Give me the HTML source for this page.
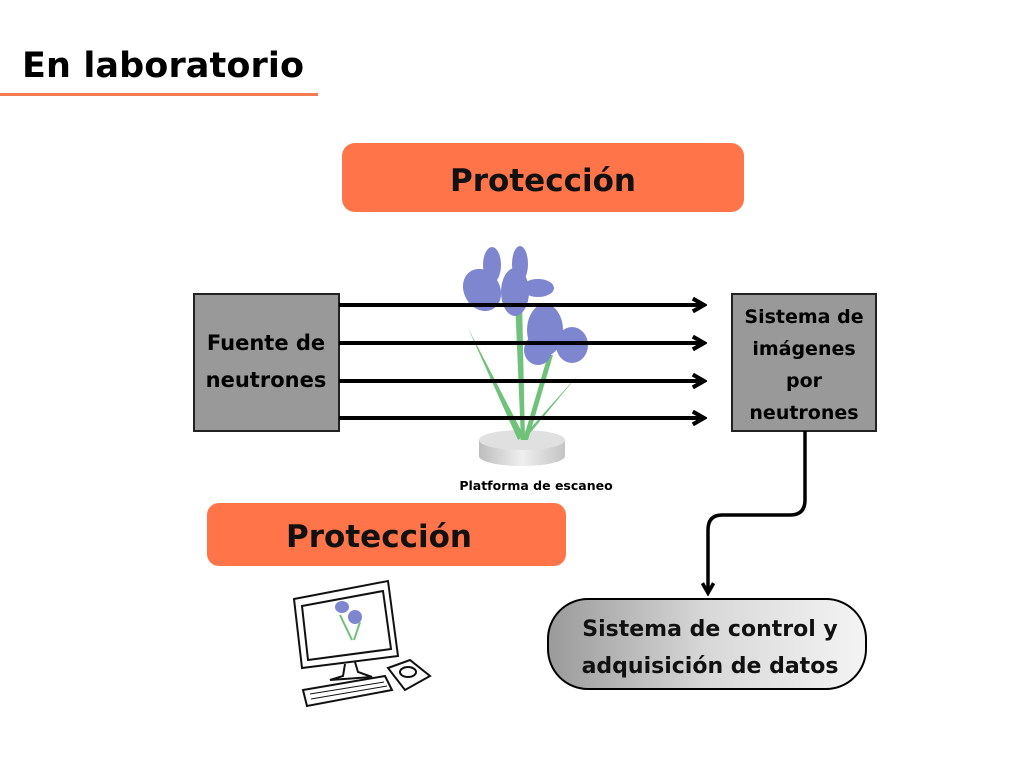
<!DOCTYPE html>
<html><head><meta charset="utf-8"><style>
html,body{margin:0;padding:0;background:#fff;}
svg{display:block}
text{font-family:"DejaVu Sans","Liberation Sans",sans-serif;font-weight:bold;}
</style></head><body>
<svg width="1024" height="768" viewBox="0 0 1024 768" xmlns="http://www.w3.org/2000/svg">
<defs>
<linearGradient id="g" x1="0" y1="0" x2="1" y2="0">
<stop offset="0" stop-color="#9a9a9a"/><stop offset="0.5" stop-color="#d8d8d8"/><stop offset="1" stop-color="#f4f4f4"/>
</linearGradient>
<linearGradient id="pg" x1="0" y1="0" x2="1" y2="0">
<stop offset="0" stop-color="#bdbdbd"/><stop offset="0.5" stop-color="#efefef"/><stop offset="1" stop-color="#c4c4c4"/>
</linearGradient>
<marker id="ah" viewBox="0 0 10 10" refX="8" refY="5" markerWidth="4" markerHeight="4" orient="auto">
<path d="M1,1 L8,5 L1,9" fill="none" stroke="#000" stroke-width="2.6"/>
</marker>
</defs>
<text x="22" y="77" font-size="35" fill="#000" textLength="282">En laboratorio</text>
<rect x="0" y="93" width="318" height="3" fill="#f47a50"/>

<rect x="342" y="143" width="402" height="69" rx="13" fill="#ff7449"/>
<text x="543" y="191" font-size="31" text-anchor="middle" fill="#111">Protección</text>

<rect x="207" y="503" width="359" height="63" rx="12" fill="#ff7449"/>
<text x="379" y="547" font-size="31" text-anchor="middle" fill="#111">Protección</text>

<rect x="194" y="294" width="145" height="137" fill="#999" stroke="#222" stroke-width="2"/>
<text x="266" y="350" font-size="21" text-anchor="middle" fill="#000">Fuente de</text>
<text x="266" y="387" font-size="21" text-anchor="middle" fill="#000">neutrones</text>

<rect x="732" y="294" width="144" height="137" fill="#999" stroke="#222" stroke-width="2"/>
<text x="804" y="323" font-size="19" text-anchor="middle" fill="#000">Sistema de</text>
<text x="804" y="355" font-size="19" text-anchor="middle" fill="#000">imágenes</text>
<text x="804" y="387" font-size="19" text-anchor="middle" fill="#000">por</text>
<text x="804" y="419" font-size="19" text-anchor="middle" fill="#000">neutrones</text>

<path d="M479,440 L479,456 A43,10 0 0 0 565,456 L565,440 Z" fill="url(#pg)"/>
<ellipse cx="522" cy="440" rx="43" ry="10" fill="#e0e0e0"/>
<g fill="#6fc27a">
<path d="M468,328 L518,440 L524,436 Z"/>
<path d="M578,375 L520,440 L526,438 Z"/>
<path d="M515,300 L521,440 L525,440 L522,300 Z"/>
<path d="M548,355 L523,440 L528,440 L553,355 Z"/>
</g>
<g fill="#7e86d0">
<ellipse cx="482" cy="290" rx="18" ry="22" transform="rotate(-30 482 290)"/>
<ellipse cx="515" cy="292" rx="14" ry="24"/>
<ellipse cx="492" cy="265" rx="9" ry="18"/>
<ellipse cx="520" cy="264" rx="8" ry="18"/>
<ellipse cx="538" cy="288" rx="16" ry="9"/>
<ellipse cx="545" cy="330" rx="18" ry="26"/>
<ellipse cx="572" cy="345" rx="16" ry="18"/>
<ellipse cx="538" cy="350" rx="14" ry="15"/>
</g>

<g stroke="#000" stroke-width="4" marker-end="url(#ah)">
<line x1="339" y1="305" x2="704" y2="305"/>
<line x1="339" y1="343" x2="704" y2="343"/>
<line x1="339" y1="381" x2="704" y2="381"/>
<line x1="339" y1="418" x2="704" y2="418"/>
</g>
<text x="536" y="490" font-size="12.5" text-anchor="middle" fill="#000">Platforma de escaneo</text>

<path d="M805,431 L805,500 Q805,515 790,515 L722,515 Q708,515 708,530 L708,593" fill="none" stroke="#000" stroke-width="3.5" marker-end="url(#ah)"/>

<rect x="548" y="599" width="318" height="90" rx="40" fill="url(#g)" stroke="#000" stroke-width="2"/>
<text x="710" y="636" font-size="22" text-anchor="middle" fill="#111">Sistema de control y</text>
<text x="710" y="673" font-size="22" text-anchor="middle" fill="#111">adquisición de datos</text>

<g fill="none" stroke="#111" stroke-width="2">
<path d="M294,599 L388,581 L398,656 L302,668 Z"/>
<path d="M302,606 L383,591 L391,649 L308,660 Z"/>
<path d="M345,664 L343,676 L330,680 L372,677 L358,672 L355,662"/>
<path d="M303,690 L385,676 L392,690 L307,706 Z"/>
<path d="M310,694 L384,682 M311,699 L387,686" stroke-width="1"/>
<path d="M388,668 L410,660 L430,676 L405,690 Z"/>
<ellipse cx="408" cy="672" rx="8" ry="5"/>
</g>
<g fill="#7e86d0"><ellipse cx="342" cy="607" rx="7" ry="6"/><ellipse cx="355" cy="617" rx="7" ry="7"/></g>
<path d="M340,615 L352,640 M360,622 L354,640" stroke="#6fc27a" stroke-width="2"/>
</svg>
</body></html>
